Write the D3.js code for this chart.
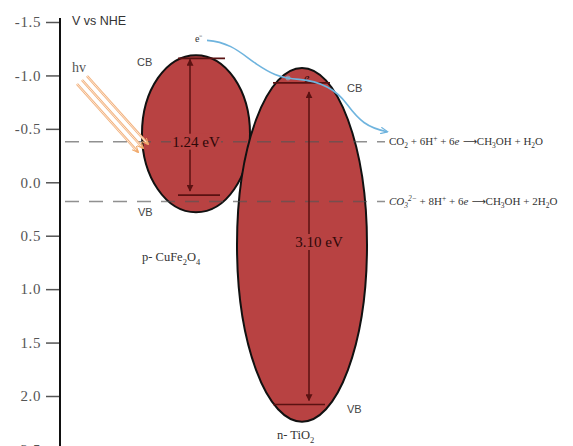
<!DOCTYPE html>
<html>
<head>
<meta charset="utf-8">
<script src="https://cdn.jsdelivr.net/npm/d3@7"></script>
<style>
  body { margin: 0; background: #fff; }
  svg { display: block; }
</style>
</head>
<body>
<svg id="chart" width="573" height="446"></svg>
<script>
// potential axis (V vs NHE)
const tickValues = [-1.5, -1.0, -0.5, 0.0, 0.5, 1.0, 1.5, 2.0, 2.5];

// semiconductors
const materials = ['CuFe2O4', 'TiO2'];
const cbEdge = [-1.16, -0.93];      // conduction band edge (V)
const vbEdge = [0.12, 2.08];        // valence band edge (V)
const bandGap = ['1.24 eV', '3.10 eV'];
const bodyTop = [-1.19, -1.07];     // ellipse extent (V)
const bodyBottom = [0.28, 2.24];

// CO2 reduction potentials
const redoxPotential = [-0.38, 0.18];

const W = 573, H = 446;
const axisX = 60;
const fill = '#b84242';
const dark = '#5a1212';

const svg = d3.select('#chart');
svg.append('rect').attr('width', W).attr('height', H).attr('fill', '#fff');

const y = d3.scaleLinear().domain([-1.5, 2.0]).range([22, 396]);
const xCenter = d3.scaleOrdinal().domain(materials).range([196, 302]);
const xHalf = d3.scaleOrdinal().domain(materials).range([54, 65]);

const defs = svg.append('defs');
defs.append('marker').attr('id', 'head')
    .attr('viewBox', '0 0 10 10').attr('refX', 9).attr('refY', 5)
    .attr('markerWidth', 7).attr('markerHeight', 7).attr('orient', 'auto-start-reverse')
    .attr('markerUnits', 'userSpaceOnUse')
  .append('path').attr('d', 'M0,0 L10,5 L0,10 z').attr('fill', dark);
defs.append('marker').attr('id', 'blueHead')
    .attr('viewBox', '0 0 10 10').attr('refX', 8).attr('refY', 5)
    .attr('markerWidth', 8).attr('markerHeight', 8).attr('orient', 'auto')
    .attr('markerUnits', 'userSpaceOnUse')
  .append('path').attr('d', 'M0,1 L9,5 L0,9').attr('fill', 'none')
    .attr('stroke', '#6fb4de').attr('stroke-width', 1.5);
defs.append('marker').attr('id', 'sunHead')
    .attr('viewBox', '0 0 10 10').attr('refX', 8).attr('refY', 5)
    .attr('markerWidth', 7).attr('markerHeight', 7).attr('orient', 'auto')
    .attr('markerUnits', 'userSpaceOnUse')
  .append('path').attr('d', 'M0,1 L9,5 L0,9').attr('fill', 'none')
    .attr('stroke', '#f0a868').attr('stroke-width', 1.4);

// axis
const yAxis = d3.axisLeft(y)
  .tickValues(tickValues)
  .tickSize(14)
  .tickPadding(5)
  .tickFormat(d => d.toFixed(1));
const axisG = svg.append('g').attr('transform', `translate(${axisX},0)`).call(yAxis);
axisG.select('.domain').remove();
axisG.selectAll('line').attr('stroke', '#555').attr('stroke-width', 1.5);
axisG.selectAll('text')
  .attr('fill', '#555')
  .attr('font-family', '"Liberation Serif", serif')
  .attr('font-size', 15)
  .attr('letter-spacing', 0.6);
svg.append('line')
  .attr('x1', axisX).attr('x2', axisX)
  .attr('y1', y(-1.5) - 4).attr('y2', H)
  .attr('stroke', '#111').attr('stroke-width', 2);

svg.append('text')
  .attr('x', 72).attr('y', 25)
  .attr('font-family', '"Liberation Sans", Arial, sans-serif')
  .attr('font-size', 12.5).attr('fill', '#333')
  .text('V vs NHE');

// semiconductor bodies
const idx = d3.range(materials.length);
svg.selectAll('ellipse.body')
  .data(idx)
  .join('ellipse')
  .attr('class', 'body')
  .attr('cx', i => xCenter(materials[i]))
  .attr('cy', i => (y(bodyTop[i]) + y(bodyBottom[i])) / 2)
  .attr('rx', i => xHalf(materials[i]))
  .attr('ry', i => (y(bodyBottom[i]) - y(bodyTop[i])) / 2)
  .attr('fill', fill)
  .attr('stroke', '#111')
  .attr('stroke-width', 2);

// redox level dashes
svg.selectAll('line.redox')
  .data(redoxPotential)
  .join('line')
  .attr('class', 'redox')
  .attr('x1', axisX + 5).attr('x2', 385)
  .attr('y1', d => y(d)).attr('y2', d => y(d))
  .attr('stroke', '#555').attr('stroke-opacity', 0.65)
  .attr('stroke-width', 1.6)
  .attr('stroke-dasharray', '14,10');

// band edges
const edgeSpan = [[-18, 22], [-29, 21]];
svg.selectAll('line.cb')
  .data(idx).join('line').attr('class', 'cb')
  .attr('x1', i => xCenter(materials[i]) + edgeSpan[i][0])
  .attr('x2', i => xCenter(materials[i]) + edgeSpan[i][1] + 7)
  .attr('y1', i => y(cbEdge[i])).attr('y2', i => y(cbEdge[i]))
  .attr('stroke', dark).attr('stroke-width', 1.6);
svg.selectAll('line.vb')
  .data(idx).join('line').attr('class', 'vb')
  .attr('x1', i => xCenter(materials[i]) + edgeSpan[i][0])
  .attr('x2', i => xCenter(materials[i]) + edgeSpan[i][1] + 2)
  .attr('y1', i => y(vbEdge[i])).attr('y2', i => y(vbEdge[i]))
  .attr('stroke', dark).attr('stroke-width', 1.6);

// gap arrows
const arrowDx = [-6, 7];
const arrowTopGap = [1, 9];
svg.selectAll('line.gap')
  .data(idx).join('line').attr('class', 'gap')
  .attr('x1', i => xCenter(materials[i]) + arrowDx[i])
  .attr('x2', i => xCenter(materials[i]) + arrowDx[i])
  .attr('y1', i => y(cbEdge[i]) + arrowTopGap[i])
  .attr('y2', i => y(vbEdge[i]) - 4)
  .attr('stroke', dark).attr('stroke-width', 1.5)
  .attr('marker-start', 'url(#head)')
  .attr('marker-end', 'url(#head)');

// gap labels, over a patch of fill colour
const gapLabelY = [y(redoxPotential[0]), 242];
const gapG = svg.selectAll('g.gapLabel')
  .data(idx).join('g').attr('class', 'gapLabel')
  .attr('transform', i => `translate(${xCenter(materials[i]) + arrowDx[i] + (i ? 10 : 6)},${gapLabelY[i]})`);
gapG.append('rect')
  .attr('x', -25).attr('y', -8).attr('width', 50).attr('height', 16)
  .attr('fill', fill);
gapG.append('text')
  .attr('text-anchor', 'middle').attr('dy', '0.35em')
  .attr('font-family', '"Liberation Serif", serif')
  .attr('font-size', 15).attr('fill', '#2e0808')
  .text(i => bandGap[i]);

// CB / VB tags
const sans = '"Liberation Sans", Arial, sans-serif';
const tagX = [[137, 138], [347, 347]];
svg.selectAll('text.cbTag')
  .data(idx).join('text').attr('class', 'cbTag')
  .attr('x', i => tagX[i][0]).attr('y', i => y(cbEdge[i]) + (i ? 9 : 8))
  .attr('font-family', sans).attr('font-size', 11).attr('fill', '#444')
  .text('CB');
svg.selectAll('text.vbTag')
  .data(idx).join('text').attr('class', 'vbTag')
  .attr('x', i => tagX[i][1]).attr('y', i => y(vbEdge[i]) + (i ? 8 : 21))
  .attr('font-family', sans).attr('font-size', 11).attr('fill', '#444')
  .text('VB');

// rich text helper (sub / sup / italic / arrow)
const serif = '"Liberation Serif", "Times New Roman", serif';
function rich(sel, parts, size) {
  const t = sel.append('text')
    .attr('font-family', serif).attr('font-size', size);
  let shift = 0;
  parts.forEach(([s, k]) => {
    const ts = t.append('tspan').text(s);
    let target = 0;
    if (k && k.includes('sub')) target = size * 0.3;
    if (k && k.includes('sup')) target = -size * 0.38;
    ts.attr('dy', target - shift);
    shift = target;
    if (k && (k.includes('sub') || k.includes('sup'))) ts.attr('font-size', size * 0.68);
    if (k && k.includes('i')) ts.attr('font-style', 'italic');
    if (k === 'arrow') ts.attr('font-family', '"DejaVu Sans", sans-serif').attr('font-size', size * 0.9);
  });
  return t;
}

// material names
const nameParts = [
  [['p- CuFe'], ['2', 'sub'], ['O'], ['4', 'sub']],
  [['n- TiO'], ['2', 'sub']]
];
const nameY = [261, 439];
idx.forEach(i => {
  rich(svg, nameParts[i], 12.5)
    .attr('x', xCenter(materials[i]) - (i ? 25 : 54))
    .attr('y', nameY[i])
    .attr('fill', '#333');
});

// reactions
const reactions = [
  [['CO'], ['2', 'sub'], [' + 6H'], ['+', 'sup'], [' + 6'], ['e', 'i'], [' \u27F6', 'arrow'], ['CH'], ['3', 'sub'], ['OH + H'], ['2', 'sub'], ['O']],
  [['CO', 'i'], ['3', 'sub i'], ['2\u2212', 'sup i'], [' + 8H'], ['+', 'sup'], [' + 6'], ['e', 'i'], [' \u27F6', 'arrow'], ['CH'], ['3', 'sub'], ['OH + 2H'], ['2', 'sub'], ['O']]
];
redoxPotential.forEach((p, i) => {
  rich(svg, reactions[i], 11)
    .attr('x', 389).attr('y', y(p) + 3.5)
    .attr('fill', '#333');
});

// electrons
svg.append('text')
  .attr('x', xCenter(materials[0]) - 1).attr('y', y(cbEdge[0]) - 16)
  .attr('font-family', serif).attr('font-size', 10).attr('fill', '#333')
  .text('e\u207B');
svg.append('text')
  .attr('x', xCenter(materials[1]) + 2).attr('y', y(cbEdge[1]) - 1)
  .attr('font-family', serif).attr('font-size', 12).attr('font-style', 'italic')
  .attr('fill', '#2a0808')
  .text('e');
svg.append('circle')
  .attr('cx', xCenter(materials[1]) - 14).attr('cy', y(cbEdge[1]) - 5)
  .attr('r', 2.5).attr('fill', '#9a8c9a');

// electron transfer path
const ex = xCenter(materials[0]) + 11, ey = y(cbEdge[0]) - 18;
const tx = 387, ty = y(redoxPotential[0]) - 10;
const path = d3.path();
path.moveTo(ex, ey);
path.bezierCurveTo(ex + 25, ey + 2, ex + 35, ey + 14, ex + 50, ey + 24);
path.bezierCurveTo(ex + 62, ey + 32, ex + 72, ey + 38, ex + 92, ey + 39);
path.bezierCurveTo(ex + 116, ey + 41, ex + 130, ey + 50, ex + 140, ey + 64);
path.bezierCurveTo(ex + 152, ey + 80, ex + 160, ty - 4, tx, ty);
svg.append('path')
  .attr('d', path.toString())
  .attr('fill', 'none')
  .attr('stroke', '#6fb4de').attr('stroke-width', 1.6)
  .attr('marker-end', 'url(#blueHead)');

// light
svg.append('text')
  .attr('x', 72).attr('y', 72)
  .attr('font-family', serif).attr('font-size', 14).attr('fill', '#555')
  .text('hv');
const beams = [0, 1, 2];
const beamG = svg.selectAll('g.beam').data(beams).join('g').attr('class', 'beam');
beamG.append('line')
  .attr('x1', k => 77 + 5 * k).attr('y1', k => 84 - 4 * k)
  .attr('x2', k => 138 + 5 * k).attr('y2', k => 152 - 4 * k)
  .attr('stroke', '#f2b27e').attr('stroke-width', 2.6)
  .attr('marker-end', 'url(#sunHead)');
beamG.append('line')
  .attr('x1', k => 77 + 5 * k).attr('y1', k => 84 - 4 * k)
  .attr('x2', k => 136 + 5 * k).attr('y2', k => 150 - 4 * k)
  .attr('stroke', '#fff3ea').attr('stroke-width', 0.8);
</script>
</body>
</html>
